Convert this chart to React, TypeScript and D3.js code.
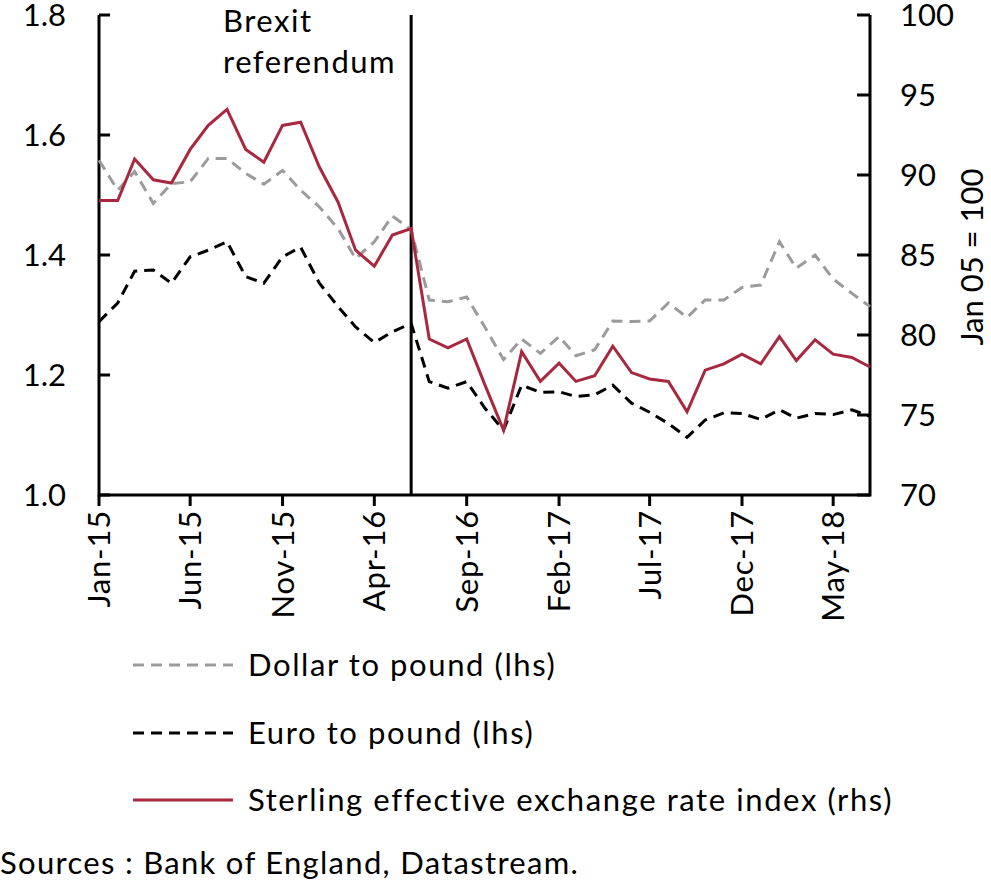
import { useRef, useEffect } from 'react'
import * as d3 from 'd3'

// monthly, Jan-15 .. Jul-18
const months = d3.timeMonth.range(new Date(2015, 0, 1), new Date(2018, 7, 1))
const tickMonths = ['Jan-15', 'Jun-15', 'Nov-15', 'Apr-16', 'Sep-16', 'Feb-17', 'Jul-17', 'Dec-17', 'May-18']

const dollar = [
  1.558, 1.508, 1.539, 1.486, 1.519, 1.522, 1.561, 1.561, 1.536, 1.518, 1.541, 1.508,
  1.480, 1.444, 1.394, 1.422, 1.465, 1.442,
  1.325, 1.322, 1.330, 1.280, 1.226, 1.260, 1.236, 1.264, 1.232, 1.242, 1.290, 1.289,
  1.290, 1.320, 1.296, 1.325, 1.325, 1.346, 1.350, 1.422, 1.378, 1.400, 1.360, 1.336, 1.314,
]
const euro = [
  1.289, 1.320, 1.373, 1.375, 1.353, 1.397, 1.408, 1.422, 1.364, 1.353, 1.397, 1.413,
  1.353, 1.314, 1.280, 1.254, 1.272, 1.286,
  1.189, 1.178, 1.189, 1.145, 1.108, 1.183, 1.171, 1.172, 1.164, 1.167, 1.183, 1.153,
  1.138, 1.119, 1.096, 1.125, 1.137, 1.136, 1.126, 1.142, 1.128, 1.136, 1.134, 1.142, 1.131,
]
const sterling = [
  88.4, 88.4, 91.0, 89.7, 89.5, 91.6, 93.1, 94.1, 91.6, 90.8, 93.1, 93.3,
  90.5, 88.3, 85.3, 84.3, 86.25, 86.65,
  79.75, 79.2, 79.75, 76.9, 74.06, 78.96, 77.1, 78.24, 77.1, 77.45, 79.3, 77.65,
  77.25, 77.1, 75.2, 77.8, 78.2, 78.8, 78.2, 79.9, 78.4, 79.7, 78.8, 78.6, 78.0,
]
const leftTicks = [1.0, 1.2, 1.4, 1.6, 1.8]
const rightTicks = [70, 75, 80, 85, 90, 95, 100]
const brexitMonth = new Date(2016, 5, 1)

const RED = '#a8283f'
const GREY = '#9b9b9b'
const FONT = 'Lato, sans-serif'
const FS = '31px'

export default function App() {
  const svgRef = useRef<SVGSVGElement>(null)

  useEffect(() => {
    if (!svgRef.current) return
    const svg = d3.select(svgRef.current)
    svg.selectAll('*').remove()

    const left = 99, right = 870, top = 15, bottom = 495
    const fmt = d3.timeFormat('%b-%y')

    const x = d3.scaleTime()
      .domain([months[0], months[months.length - 1]])
      .range([left, right])
    const yL = d3.scaleLinear().domain([1.0, 1.8]).range([bottom, top])
    const yR = d3.scaleLinear().domain([70, 100]).range([bottom, top])

    const g = svg.append('g').style('font-family', FONT).style('font-size', FS)

    // axes frame
    g.append('line').attr('x1', left).attr('x2', left).attr('y1', top).attr('y2', bottom + 1.5)
      .attr('stroke', '#000').attr('stroke-width', 3)
    g.append('line').attr('x1', right).attr('x2', right).attr('y1', top).attr('y2', bottom + 1.5)
      .attr('stroke', '#000').attr('stroke-width', 3)
    g.append('line').attr('x1', left).attr('x2', right).attr('y1', bottom).attr('y2', bottom)
      .attr('stroke', '#000').attr('stroke-width', 3)

    // left ticks & labels
    leftTicks.forEach(v => {
      g.append('line').attr('x1', left).attr('x2', left + 11).attr('y1', yL(v)).attr('y2', yL(v))
        .attr('stroke', '#000').attr('stroke-width', 3)
      g.append('text').attr('x', 66).attr('y', yL(v) + 11).attr('text-anchor', 'end')
        .text(v.toFixed(1))
    })

    // right ticks & labels
    rightTicks.forEach(v => {
      g.append('line').attr('x1', right - 13).attr('x2', right).attr('y1', yR(v)).attr('y2', yR(v))
        .attr('stroke', '#000').attr('stroke-width', 3)
      g.append('text').attr('x', 900).attr('y', yR(v) + 11).attr('text-anchor', 'start')
        .text(String(v))
    })
    g.append('text')
      .attr('transform', `translate(983,${(top + bottom) / 2 + 2}) rotate(-90)`)
      .attr('text-anchor', 'middle')
      .text('Jan 05 = 100')

    // bottom ticks & labels
    const tickDates = months.filter(m => tickMonths.includes(fmt(m)))
    tickDates.forEach(m => {
      g.append('line').attr('x1', x(m)).attr('x2', x(m)).attr('y1', bottom).attr('y2', bottom + 11)
        .attr('stroke', '#000').attr('stroke-width', 3)
      g.append('text')
        .attr('transform', `translate(${x(m) + 11},${bottom + 15}) rotate(-90)`)
        .attr('text-anchor', 'end').style('letter-spacing', '0.8px')
        .text(fmt(m))
    })

    // Brexit referendum marker
    g.append('line').attr('x1', x(brexitMonth)).attr('x2', x(brexitMonth))
      .attr('y1', top).attr('y2', bottom).attr('stroke', '#000').attr('stroke-width', 3)
    g.append('text').attr('x', 223).attr('y', 32).style('letter-spacing', '1.5px').text('Brexit')
    g.append('text').attr('x', 223).attr('y', 73).style('letter-spacing', '1.5px').text('referendum')

    // series
    const lineL = d3.line<number>().x((_, i) => x(months[i])).y(d => yL(d))
    const lineR = d3.line<number>().x((_, i) => x(months[i])).y(d => yR(d))

    g.append('path').datum(dollar).attr('d', lineL).attr('fill', 'none')
      .attr('stroke', GREY).attr('stroke-width', 3).attr('stroke-dasharray', '11,7')
    g.append('path').datum(euro).attr('d', lineL).attr('fill', 'none')
      .attr('stroke', '#000').attr('stroke-width', 3).attr('stroke-dasharray', '11,7')
    g.append('path').datum(sterling).attr('d', lineR).attr('fill', 'none')
      .attr('stroke', RED).attr('stroke-width', 3).attr('stroke-linejoin', 'miter')

    // legend
    const legend = [
      { label: 'Dollar to pound (lhs)', color: GREY, dash: '11,7', y: 665 },
      { label: 'Euro to pound (lhs)', color: '#000', dash: '11,7', y: 733 },
      { label: 'Sterling effective exchange rate index (rhs)', color: RED, dash: null, y: 800 },
    ]
    legend.forEach(l => {
      g.append('line').attr('x1', 133).attr('x2', 233).attr('y1', l.y).attr('y2', l.y)
        .attr('stroke', l.color).attr('stroke-width', 3)
        .attr('stroke-dasharray', l.dash ?? 'none')
      g.append('text').attr('x', 248).attr('y', l.y + 11).style('letter-spacing', '1.6px')
        .text(l.label)
    })

    g.append('text').attr('x', 0).attr('y', 874).style('letter-spacing', '1.3px')
      .text('Sources : Bank of England, Datastream.')
  }, [])

  return (
    <svg ref={svgRef} width={991} height={885}
      style={{ position: 'absolute', left: 0, top: 0, background: '#fff' }} />
  )
}
